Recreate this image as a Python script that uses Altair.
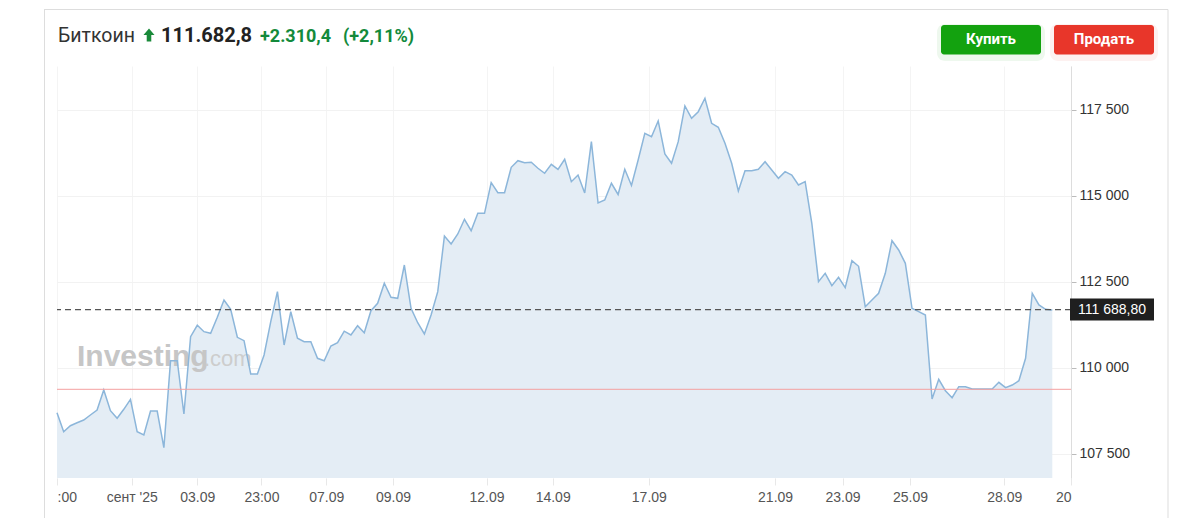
import json
import altair as alt
import pandas as pd

# ---- data ----
prices = [
    108692, 108140, 108314, 108401, 108480, 108625, 108770, 109352, 108750, 108529,
    108791, 109081, 108140, 108044, 108741, 108741, 107674, 110203, 110203, 108654,
    110901, 111233, 111047, 111000, 111465, 111968, 111698, 110884, 110785, 109817,
    109817, 110369, 111337, 112209, 110660, 111628, 110855, 110756, 110756, 110273,
    110203, 110631, 110727, 111061, 110951, 111221, 111017, 111657, 111872, 112454,
    112047, 112017, 112985, 111727, 111308, 110980, 111532, 112209, 113829, 113596,
    113887, 114314, 113983, 114488, 114488, 115378, 115087, 115087, 115826, 116017,
    115959, 115971, 115797, 115651, 115913, 115767, 116058, 115407, 115602, 115079,
    116570, 114788, 114875, 115361, 115035, 115767, 115297, 116038, 116814, 116715,
    117172, 116212, 115942, 116570, 117608, 117250, 117442, 117832, 117105, 116988,
    116523, 115942, 115137, 115727, 115727, 115767, 115988, 115747, 115506, 115698,
    115602, 115311, 115407, 114198, 112500, 112744, 112384, 112628, 112326, 113110,
    112948, 111773, 111968, 112163, 112744, 113692, 113422, 113035, 111727, 111628,
    111532, 109090, 109663, 109331, 109128, 109448, 109448, 109381, 109381, 109381,
    109381, 109576, 109419, 109497, 109622, 110273, 112163, 111823, 111698, 111677,
]
tick_pos = [0, 11.2, 21.0, 30.6, 40.3, 50.3, 64.3, 74.2, 88.6, 107.5, 117.6, 127.7, 141.8, 151.8]
tick_labels = [":00", "сент '25", "03.09", "23:00", "07.09", "09.09", "12.09", "14.09",
               "17.09", "21.09", "23.09", "25.09", "28.09", "20"]
y_ticks = [107500, 110000, 112500, 115000, 117500]
last_price = 111688.8
prev_close = 109372.4
title_name = "Биткоин"
title_price = "111.682,8"
title_change = "+2.310,4"
title_pct = "(+2,11%)"
buy_label = "Купить"
sell_label = "Продать"
last_label = "111 688,80"

Y_MIN, Y_MAX = 106794, 118770
X_MAX = 151.8
W, H = 1014, 412

df = pd.DataFrame({"i": list(range(len(prices))), "v": prices})

xs = alt.Scale(domain=[0, X_MAX], nice=False, zero=False)
ys = alt.Scale(domain=[Y_MIN, Y_MAX], nice=False, zero=False)

pos_js = json.dumps(tick_pos)
lab_js = json.dumps(tick_labels, ensure_ascii=False)
x_label_expr = f"{lab_js}[indexof({pos_js}, datum.value)]"

x_axis = alt.Axis(
    values=tick_pos, labelExpr=x_label_expr, title=None, domain=False,
    ticks=True, tickSize=7, tickColor="#e8e8e8", grid=True, gridColor="#f4f4f4",
    labelColor="#555555", labelFont="Liberation Sans", labelFontSize=14,
    labelPadding=5, labelFlush=True,
)
y_axis = alt.Axis(
    orient="right", values=y_ticks, title=None,
    labelExpr="replace(format(datum.value, ','), ',', ' ')",
    domain=True, domainColor="#dddddd", ticks=True, tickSize=5, tickColor="#bbbbbb",
    grid=True, gridColor="#f2f2f2", labelColor="#333333",
    labelFont="Liberation Sans", labelFontSize=14, labelPadding=3,
)

base = alt.Chart(df)

area = base.mark_area(color="#e4edf5", opacity=1).encode(
    x=alt.X("i:Q", scale=xs, axis=x_axis),
    y=alt.Y("v:Q", scale=ys, axis=y_axis),
    y2=alt.datum(Y_MIN),
)

one = alt.Chart(df).transform_filter("datum.i == 0")

watermark1 = one.mark_text(
    text="Investing", font="Liberation Sans", fontSize=30, fontWeight="bold",
    color="#c6c6c6", align="left", baseline="alphabetic",
).encode(x=alt.value(20), y=alt.value(300))
watermark2 = one.mark_text(
    text=".com", font="Liberation Sans", fontSize=22, color="#cdcdcd",
    align="left", baseline="alphabetic",
).encode(x=alt.value(147), y=alt.value(300))

line = base.mark_line(color="#8cb6da", strokeWidth=1.5).encode(
    x=alt.X("i:Q", scale=xs), y=alt.Y("v:Q", scale=ys)
)

red_rule = one.mark_rule(color="#f4a0a0", strokeWidth=1).encode(y=alt.datum(prev_close))
dash_rule = one.mark_rule(color="#555555", strokeWidth=1.2, strokeDash=[6, 4]).encode(
    y=alt.datum(last_price))

last_box = one.mark_rect(color="#1f1f1f", yOffset=-11, y2Offset=11).encode(
    x=alt.value(1013), x2=alt.value(1097), y=alt.datum(last_price), y2=alt.datum(last_price))
last_text = one.mark_text(
    text=last_label, color="white", font="Liberation Sans", fontSize=14,
    align="left", baseline="middle",
).encode(x=alt.value(1021), y=alt.datum(last_price))

hdr_name = one.mark_text(text=title_name, font="Roboto", fontSize=19.5, color="#333333",
                         align="left", baseline="alphabetic").encode(x=alt.value(1), y=alt.value(-24))
hdr_arrow = one.mark_point(
    shape="M0,-1 L0.85,0 L0.35,0 L0.35,1 L-0.35,1 L-0.35,0 L-0.85,0 Z",
    filled=True, color="#1a8a3a", opacity=1, size=170,
).encode(x=alt.value(92), y=alt.value(-31))
hdr_price = one.mark_text(text=title_price, font="Roboto", fontSize=20, fontWeight="bold",
                          color="#222222", align="left", baseline="alphabetic").encode(x=alt.value(104), y=alt.value(-24))
hdr_change = one.mark_text(text=title_change, font="Roboto", fontSize=18, fontWeight="bold",
                           color="#138a3b", align="left", baseline="alphabetic").encode(x=alt.value(203), y=alt.value(-24))
hdr_pct = one.mark_text(text=title_pct, font="Roboto", fontSize=18, fontWeight="bold",
                        color="#138a3b", align="left", baseline="alphabetic").encode(x=alt.value(286), y=alt.value(-24))

buy_shadow = one.mark_rect(color="#12a10e", opacity=0.07, cornerRadius=8).encode(
    x=alt.value(880), x2=alt.value(988), y=alt.value(-42), y2=alt.value(-5))
buy_btn = one.mark_rect(color="#13a20f", cornerRadius=3).encode(
    x=alt.value(884), x2=alt.value(984), y=alt.value(-41), y2=alt.value(-11.5))
buy_txt = one.mark_text(text=buy_label, font="Roboto", fontSize=15, fontWeight="bold",
                        color="white", align="center", baseline="middle").encode(x=alt.value(934), y=alt.value(-27))
sell_shadow = one.mark_rect(color="#e8362a", opacity=0.07, cornerRadius=8).encode(
    x=alt.value(993), x2=alt.value(1101), y=alt.value(-42), y2=alt.value(-5))
sell_btn = one.mark_rect(color="#e8362a", cornerRadius=3).encode(
    x=alt.value(997), x2=alt.value(1097), y=alt.value(-41), y2=alt.value(-11.5))
sell_txt = one.mark_text(text=sell_label, font="Roboto", fontSize=15, fontWeight="bold",
                         color="white", align="center", baseline="middle").encode(x=alt.value(1047), y=alt.value(-27))

frame_top = one.mark_rule(color="#dddddd", strokeWidth=1).encode(
    x=alt.value(-13), x2=alt.value(1111), y=alt.value(-56.5))
frame_left = one.mark_rule(color="#dddddd", strokeWidth=1).encode(
    x=alt.value(-12.5), y=alt.value(-56.5), y2=alt.value(470))
frame_right = one.mark_rule(color="#dddddd", strokeWidth=1).encode(
    x=alt.value(1111), y=alt.value(-56.5), y2=alt.value(470))

chart = alt.layer(
    area, watermark1, watermark2, line, red_rule, dash_rule, last_box, last_text,
    hdr_name, hdr_arrow, hdr_price, hdr_change, hdr_pct,
    buy_shadow, buy_btn, buy_txt, sell_shadow, sell_btn, sell_txt,
    frame_top, frame_left, frame_right,
).properties(
    width=W, height=H,
    autosize=alt.AutoSizeParams(type="none"),
    padding={"left": 49, "top": 58, "right": 114, "bottom": 40},
).configure_view(strokeWidth=0)

chart.save("out.html", embed_options={"renderer": "svg", "actions": False})
